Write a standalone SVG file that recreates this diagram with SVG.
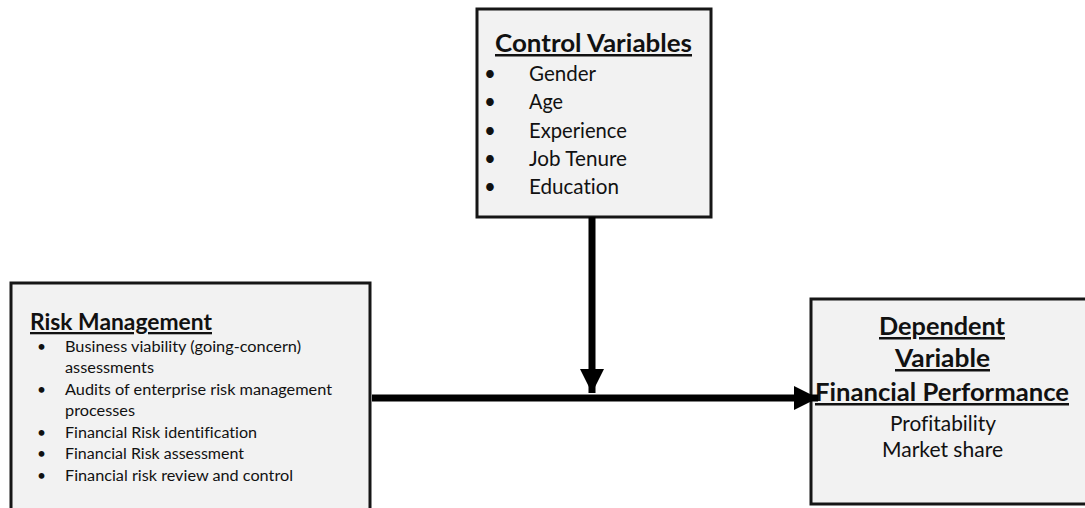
<svg xmlns="http://www.w3.org/2000/svg" width="1085" height="508" viewBox="0 0 1085 508">
<style>
.box{fill:#f2f2f2;stroke:#161616;stroke-width:3}
.t{font-family:Lato,"Open Sans","Liberation Sans",sans-serif;fill:#111;font-variant-ligatures:none}
.h{font-weight:bold;text-decoration:underline}
.conn{stroke:#000;stroke-width:7;fill:none}
</style>
<defs>
<marker id="ah" markerUnits="userSpaceOnUse" markerWidth="26" markerHeight="26" refX="24" refY="12" orient="auto">
<path d="M0,0 L24,12 L0,24 Z" fill="#000"/>
</marker>
</defs>
<rect width="1085" height="508" fill="#fff"/>
<g id="control">
<rect class="box" x="477" y="9" width="234" height="208"/>
<text class="t h" x="495" y="52" font-size="25" textLength="197" lengthAdjust="spacingAndGlyphs">Control Variables</text>
<g class="t" font-size="20.5">
<text x="484" y="81">•</text><text x="529" y="81" textLength="67" lengthAdjust="spacingAndGlyphs">Gender</text>
<text x="484" y="109">•</text><text x="529" y="109" textLength="34" lengthAdjust="spacingAndGlyphs">Age</text>
<text x="484" y="138">•</text><text x="529" y="138" textLength="98" lengthAdjust="spacingAndGlyphs">Experience</text>
<text x="484" y="166">•</text><text x="529" y="166" textLength="98" lengthAdjust="spacingAndGlyphs">Job Tenure</text>
<text x="484" y="194">•</text><text x="529" y="194" textLength="90" lengthAdjust="spacingAndGlyphs">Education</text>
</g>
</g>
<g id="risk">
<rect class="box" x="11" y="283" width="359" height="230"/>
<text class="t h" x="30" y="330" font-size="23" textLength="182" lengthAdjust="spacingAndGlyphs">Risk Management</text>
<g class="t" font-size="15.5">
<text x="37" y="352">•</text><text x="65" y="352" textLength="236" lengthAdjust="spacingAndGlyphs">Business viability (going-concern)</text>
<text x="65" y="373" textLength="89" lengthAdjust="spacingAndGlyphs">assessments</text>
<text x="37" y="395">•</text><text x="65" y="395" textLength="267" lengthAdjust="spacingAndGlyphs">Audits of enterprise risk management</text>
<text x="65" y="416" textLength="70" lengthAdjust="spacingAndGlyphs">processes</text>
<text x="37" y="438">•</text><text x="65" y="438" textLength="192" lengthAdjust="spacingAndGlyphs">Financial Risk identification</text>
<text x="37" y="459">•</text><text x="65" y="459" textLength="179" lengthAdjust="spacingAndGlyphs">Financial Risk assessment</text>
<text x="37" y="481">•</text><text x="65" y="481" textLength="228" lengthAdjust="spacingAndGlyphs">Financial risk review and control</text>
</g>
</g>
<g id="dependent">
<rect class="box" x="811" y="299" width="280" height="205"/>
<g class="t h" font-size="25">
<text x="879" y="335" textLength="126" lengthAdjust="spacingAndGlyphs">Dependent</text>
<text x="895" y="367" textLength="95" lengthAdjust="spacingAndGlyphs">Variable</text>
<text x="815" y="401" textLength="254" lengthAdjust="spacingAndGlyphs">Financial Performance</text>
</g>
<g class="t" font-size="20.5">
<text x="890" y="431" textLength="106" lengthAdjust="spacingAndGlyphs">Profitability</text>
<text x="882" y="457" textLength="121" lengthAdjust="spacingAndGlyphs">Market share</text>
</g>
</g>
<g id="connectors">
<line class="conn" x1="592" y1="217" x2="592" y2="393" marker-end="url(#ah)"/>
<line class="conn" x1="372" y1="398" x2="818" y2="398" marker-end="url(#ah)"/>
</g>
</svg>
